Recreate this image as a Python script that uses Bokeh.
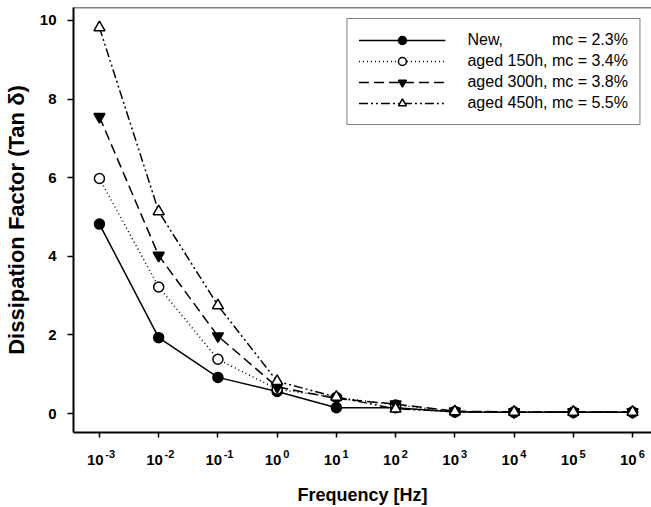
from bokeh.plotting import figure
from bokeh.models import Range1d, FixedTicker, Span, LinearAxis
from bokeh.embed import file_html
from bokeh.resources import INLINE

# exponents of frequency (Hz) = log10(f); tick labels are 10^exp
freq_exp = [-3, -2, -1, 0, 1, 2, 3, 4, 5, 6]
tick_base = "10"
tick_exps = ["-3", "-2", "-1", "0", "1", "2", "3", "4", "5", "6"]

new_vals   = [4.82, 1.93, 0.92, 0.56, 0.15, 0.15, 0.04, 0.03, 0.03, 0.03]
aged150    = [5.98, 3.22, 1.38, 0.62, 0.41, 0.22, 0.05, 0.04, 0.04, 0.04]
aged300    = [7.55, 4.02, 1.97, 0.68, 0.38, 0.24, 0.06, 0.04, 0.04, 0.04]
aged450    = [9.82, 5.14, 2.75, 0.82, 0.42, 0.12, 0.05, 0.04, 0.04, 0.04]

labels = ["New," + "\u00a0" * 11 + "mc = 2.3%",
          "aged 150h, mc = 3.4%",
          "aged 300h, mc = 3.8%",
          "aged 450h, mc = 5.5%"]

FONT = "Liberation Sans"
Y0, Y1 = -0.482, 10.33

p = figure(width=651, height=507, output_backend="svg", toolbar_location=None,
           x_range=Range1d(-3.438, 6.32), y_range=Range1d(Y0, Y1),
           min_border_left=72, min_border_right=0, min_border_top=7, min_border_bottom=0)
p.outline_line_color = None
p.xgrid.visible = False
p.ygrid.visible = False
p.background_fill_color = "white"

p.add_layout(Span(location=Y1, dimension="width", line_color="black", line_width=1.5))

series = [
    (new_vals, "solid", "circle", "black", 10),
    (aged150, "1 3", "circle", "white", 10),
    (aged300, "10 5", "inverted_triangle", "black", 11),
    (aged450, "9 3 2 3 2 3", "triangle", "white", 11),
]
for (vals, dash, marker, fill, size), lab in zip(series, labels):
    p.line(freq_exp, vals, line_color="black", line_width=1.5, line_dash=dash, legend_label=lab)
    p.scatter(freq_exp, vals, marker=marker, size=size, fill_color=fill,
              line_color="black", line_width=1.5, legend_label=lab)

# main x axis: ticks and the "10" bases
xa = p.xaxis[0]
xa.ticker = FixedTicker(ticks=freq_exp)
xa.major_label_overrides = {v: tick_base + "\u00a0\u00a0" for v in freq_exp}
xa.minor_tick_line_color = None
xa.major_tick_in = 0
xa.major_tick_out = 5
xa.axis_line_width = 2
xa.major_tick_line_width = 1.5
xa.major_label_text_font = FONT
xa.major_label_text_font_size = "15px"
xa.major_label_text_font_style = "bold"
xa.major_label_text_color = "black"
xa.major_label_standoff = 13

# second axis row: superscript exponents + axis title
xa2 = LinearAxis(ticker=FixedTicker(ticks=freq_exp))
xa2.major_label_overrides = {v: "\u00a0" * (7 if e.startswith("-") else 6) + e
                             for v, e in zip(freq_exp, tick_exps)}
xa2.axis_line_color = None
xa2.major_tick_line_color = None
xa2.minor_tick_line_color = None
xa2.major_tick_in = 0
xa2.major_tick_out = 0
xa2.major_label_standoff = -23
xa2.major_label_text_font = FONT
xa2.major_label_text_font_size = "11px"
xa2.major_label_text_font_style = "bold"
xa2.major_label_text_color = "black"
xa2.axis_label = "Frequency [Hz]"
xa2.axis_label_text_font = FONT
xa2.axis_label_text_font_size = "18px"
xa2.axis_label_text_font_style = "bold"
xa2.axis_label_text_color = "black"
xa2.axis_label_standoff = 22
p.add_layout(xa2, "below")

ya = p.yaxis[0]
ya.ticker = FixedTicker(ticks=[0, 2, 4, 6, 8, 10])
ya.minor_tick_line_color = None
ya.major_tick_in = 0
ya.major_tick_out = 6
ya.axis_line_width = 2
ya.major_tick_line_width = 1.5
ya.major_label_text_font = FONT
ya.major_label_text_font_size = "15px"
ya.major_label_text_font_style = "bold"
ya.major_label_text_color = "black"
ya.major_label_standoff = 11
ya.axis_label = "Dissipation Factor (Tan δ)"
ya.axis_label_text_font = FONT
ya.axis_label_text_font_size = "22px"
ya.axis_label_text_font_style = "bold"
ya.axis_label_text_color = "black"
ya.axis_label_standoff = 8

lg = p.legend[0]
lg.location = "top_right"
lg.margin = 11
lg.padding = 11
lg.spacing = 1
lg.label_height = 20
lg.glyph_height = 20
lg.glyph_width = 87
lg.label_standoff = 22
lg.label_text_font = FONT
lg.label_text_font_size = "16px"
lg.label_text_color = "black"
lg.border_line_color = "black"
lg.border_line_width = 1.5
lg.background_fill_alpha = 1
lg.background_fill_color = "white"

open("out.html", "w").write(file_html(p, INLINE))
